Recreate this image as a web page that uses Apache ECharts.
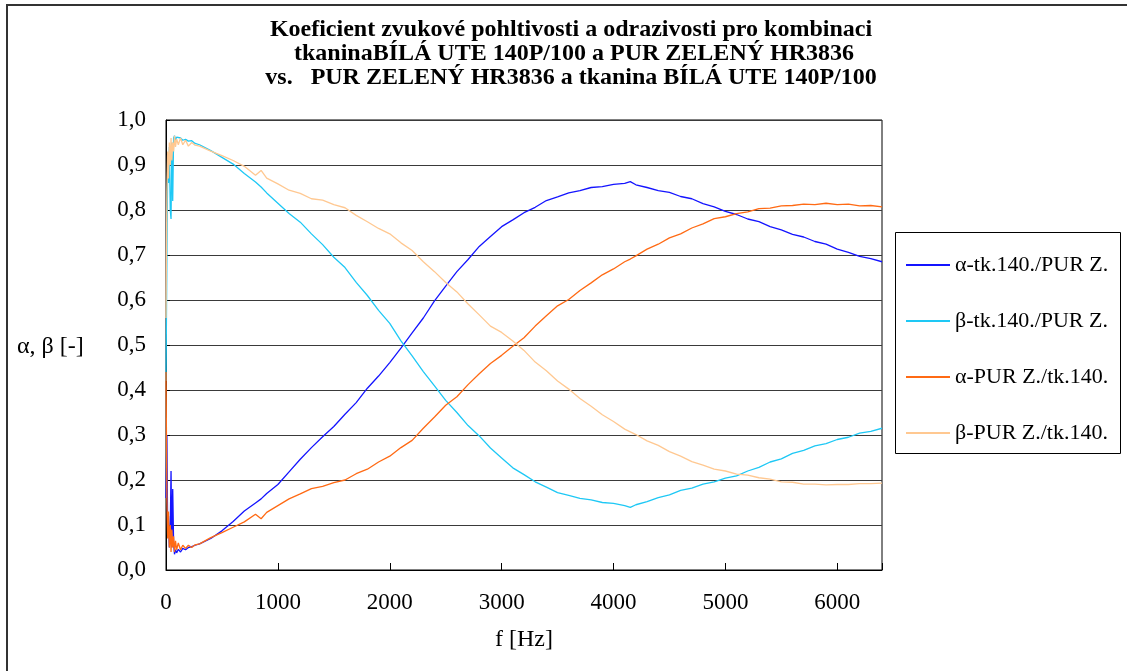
<!DOCTYPE html>
<html>
<head>
<meta charset="utf-8">
<script src="https://cdn.jsdelivr.net/npm/echarts@6/dist/echarts.min.js"></script>
<style>
  html, body { margin: 0; padding: 0; background: #fff; }
  #chart { width: 1127px; height: 671px; }
</style>
</head>
<body>
<div id="chart"></div>
<script>
// Frequency grid [Hz] shared by all four measured curves
const freqHz = [0, 8, 15, 22, 30, 38, 45, 52, 60, 68, 76, 85, 95, 110, 130, 150, 175, 200, 230, 260, 300,
  400, 500, 600, 700, 800, 850, 900, 1000, 1100, 1200, 1300, 1400, 1500, 1600, 1700, 1800, 1900, 2000,
  2100, 2200, 2300, 2400, 2500, 2600, 2700, 2800, 2900, 3000, 3100, 3200, 3300, 3400, 3500, 3600, 3700, 3800, 3900, 4000, 4100, 4150,
  4200, 4300, 4400, 4500, 4600, 4700, 4800, 4900, 5000, 5100, 5200, 5300, 5400, 5500, 5600, 5700, 5800, 5900, 6000, 6100, 6200, 6300, 6400];

// α – fabric 140 / PUR green
const alphaTkPur = [0.16, 0.30, 0.08, 0.12, 0.05, 0.09, 0.22, 0.05, 0.18, 0.06, 0.035, 0.045, 0.038, 0.046, 0.040, 0.048, 0.045, 0.050, 0.052, 0.055, 0.058,
  0.070, 0.087, 0.108, 0.131, 0.149, 0.158, 0.170, 0.190, 0.218, 0.246, 0.272, 0.296, 0.319, 0.346, 0.372, 0.404, 0.431, 0.461,
  0.493, 0.527, 0.560, 0.598, 0.631, 0.663, 0.690, 0.719, 0.741, 0.763, 0.778, 0.794, 0.806, 0.821, 0.829, 0.838, 0.843, 0.850, 0.852, 0.857, 0.859, 0.863,
  0.856, 0.850, 0.843, 0.839, 0.830, 0.825, 0.814, 0.807, 0.797, 0.790, 0.780, 0.774, 0.763, 0.756, 0.746, 0.740, 0.730, 0.724, 0.713, 0.706, 0.697, 0.692, 0.685];

// β – fabric 140 / PUR green
const betaTkPur = [0.42, 0.70, 0.90, 0.86, 0.94, 0.80, 0.78, 0.95, 0.82, 0.96, 0.965, 0.955, 0.962, 0.958, 0.960, 0.955, 0.957, 0.953, 0.954, 0.948, 0.945,
  0.932, 0.917, 0.902, 0.881, 0.862, 0.851, 0.838, 0.815, 0.792, 0.773, 0.747, 0.723, 0.695, 0.672, 0.639, 0.610, 0.577, 0.548,
  0.509, 0.476, 0.441, 0.409, 0.377, 0.350, 0.321, 0.298, 0.271, 0.249, 0.227, 0.212, 0.196, 0.184, 0.172, 0.166, 0.159, 0.156, 0.150, 0.148, 0.143, 0.139,
  0.145, 0.152, 0.161, 0.167, 0.177, 0.182, 0.191, 0.196, 0.204, 0.209, 0.220, 0.228, 0.240, 0.247, 0.259, 0.266, 0.276, 0.281, 0.290, 0.295, 0.304, 0.308, 0.315];

// α – PUR green / fabric 140
const alphaPurTk = [0.44, 0.16, 0.07, 0.13, 0.05, 0.10, 0.04, 0.09, 0.05, 0.075, 0.04, 0.065, 0.045, 0.060, 0.045, 0.055, 0.048, 0.055, 0.050, 0.056, 0.058,
  0.072, 0.083, 0.095, 0.107, 0.124, 0.114, 0.128, 0.143, 0.158, 0.169, 0.181, 0.186, 0.194, 0.200, 0.214, 0.224, 0.240, 0.253,
  0.272, 0.288, 0.315, 0.340, 0.366, 0.385, 0.412, 0.436, 0.459, 0.477, 0.497, 0.516, 0.542, 0.565, 0.587, 0.601, 0.621, 0.638, 0.656, 0.669, 0.685, 0.691,
  0.698, 0.713, 0.724, 0.738, 0.747, 0.760, 0.769, 0.781, 0.785, 0.792, 0.796, 0.803, 0.804, 0.809, 0.810, 0.813, 0.812, 0.815, 0.812, 0.813, 0.809, 0.810, 0.807];

// β – PUR green / fabric 140
const betaPurTk = [0.56, 0.84, 0.93, 0.87, 0.95, 0.90, 0.96, 0.91, 0.95, 0.93, 0.965, 0.94, 0.958, 0.945, 0.960, 0.945, 0.955, 0.942, 0.950, 0.944, 0.942,
  0.931, 0.921, 0.910, 0.897, 0.877, 0.888, 0.871, 0.858, 0.844, 0.837, 0.825, 0.822, 0.812, 0.805, 0.788, 0.774, 0.759, 0.747,
  0.727, 0.710, 0.685, 0.663, 0.639, 0.618, 0.591, 0.567, 0.542, 0.528, 0.509, 0.488, 0.462, 0.443, 0.420, 0.402, 0.381, 0.364, 0.345, 0.330, 0.313, 0.307,
  0.301, 0.287, 0.277, 0.263, 0.253, 0.241, 0.233, 0.224, 0.220, 0.213, 0.211, 0.205, 0.202, 0.196, 0.195, 0.191, 0.191, 0.189, 0.190, 0.190, 0.192, 0.192, 0.193];

const seriesNames = ['α-tk.140./PUR Z.', 'β-tk.140./PUR Z.', 'α-PUR Z./tk.140.', 'β-PUR Z./tk.140.'];
const seriesColors = ['#1414ff', '#1ec8f5', '#ff6a14', '#ffc891'];
const seriesValues = [alphaTkPur, betaTkPur, alphaPurTk, betaPurTk];

const titleLines = [
  'Koeficient zvukové pohltivosti a odrazivosti pro kombinaci',
  ' tkaninaBÍLÁ UTE 140P/100 a PUR ZELENÝ HR3836',
  'vs.   PUR ZELENÝ HR3836 a tkanina BÍLÁ UTE 140P/100'
];

const serif = '"Liberation Serif", "Times New Roman", serif';

const chart = echarts.init(document.getElementById('chart'), null, { renderer: 'canvas' });

chart.setOption({
  animation: false,
  backgroundColor: '#ffffff',
  title: {
    text: titleLines.join('\n'),
    left: 566,
    top: 13,
    textAlign: 'center',
    textStyle: { fontFamily: serif, fontSize: 24, fontWeight: 'bold', color: '#000', lineHeight: 24 }
  },
  grid: {
    left: 166, top: 120, width: 716, height: 450,
    show: true, borderColor: '#000', borderWidth: 1, backgroundColor: '#fff'
  },
  legend: {
    orient: 'vertical',
    left: 906,
    top: 254,
    padding: 0,
    itemGap: 34,
    itemWidth: 44,
    itemHeight: 2,
    icon: 'rect',
    selectedMode: false,
    data: seriesNames,
    textStyle: { fontFamily: serif, fontSize: 22, color: '#000', lineHeight: 20 }
  },
  xAxis: {
    type: 'value',
    min: 0, max: 6400, interval: 1000,
    name: 'f [Hz]',
    nameLocation: 'middle',
    nameGap: 58,
    nameTextStyle: { fontFamily: serif, fontSize: 24, color: '#000' },
    axisLine: { lineStyle: { color: '#000', width: 1 } },
    axisTick: { inside: true, length: 7, lineStyle: { color: '#000' } },
    axisLabel: {
      margin: 21,
      fontFamily: serif, fontSize: 23, color: '#000',
      formatter: v => (v % 1000 === 0 ? String(v) : '')
    },
    splitLine: { show: false }
  },
  yAxis: {
    type: 'value',
    min: 0, max: 1, interval: 0.1,
    axisLine: { show: true, lineStyle: { color: '#000', width: 1 } },
    axisTick: { inside: true, length: 4, lineStyle: { color: '#000' } },
    axisLabel: {
      margin: 20,
      fontFamily: serif, fontSize: 23, color: '#000',
      formatter: v => v.toFixed(1).replace('.', ',')
    },
    splitLine: { show: true, lineStyle: { color: '#3a3a3a', width: 1 } }
  },
  graphic: [
    {
      type: 'rect', silent: true,
      shape: { x: 7, y: 5, width: 1400, height: 900 },
      style: { fill: 'none', stroke: '#333', lineWidth: 2 }
    },
    {
      type: 'rect', silent: true,
      shape: { x: 895.5, y: 232.5, width: 225, height: 221 },
      style: { fill: 'none', stroke: '#000', lineWidth: 1 }
    },
    {
      type: 'text', silent: true,
      x: 17, y: 347,
      style: { text: 'α, β [-]', fontFamily: serif, fontSize: 24, fill: '#000', verticalAlign: 'middle' }
    }
  ],
  series: seriesNames.map((name, k) => ({
    name,
    type: 'line',
    symbol: 'none',
    showSymbol: false,
    color: seriesColors[k],
    lineStyle: { color: seriesColors[k], width: 1.3 },
    data: freqHz.map((f, i) => [f, seriesValues[k][i]])
  }))
});
</script>
</body>
</html>
